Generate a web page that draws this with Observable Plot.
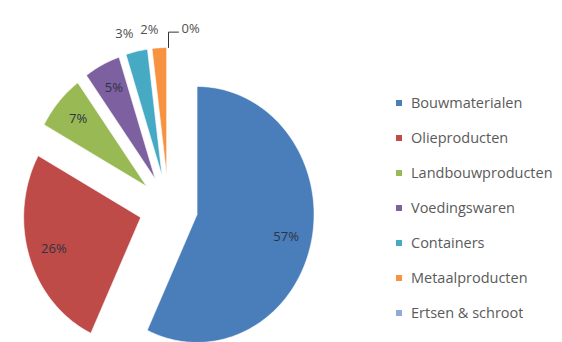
<!DOCTYPE html>
<html><head><meta charset="utf-8">
<script src="https://cdn.jsdelivr.net/npm/d3@7"></script>
<script src="https://cdn.jsdelivr.net/npm/@observablehq/plot@0.6"></script>
<style>
html,body{margin:0;padding:0;background:#fff;}
#wrap{position:relative;width:562px;height:342px;overflow:hidden;}
#legend{position:absolute;left:396px;top:85px;}
#legend .lg-swatch{height:35px !important;padding:0 !important;margin:0 !important;font-family:"Open Sans",sans-serif !important;font-size:14.5px !important;color:#5a5a5a !important;display:flex !important;align-items:center !important;white-space:nowrap !important;}
#legend .lg-swatch svg{margin-right:9px !important;}
#legend .lg-swatches, #legend > div{font-family:"Open Sans",sans-serif !important;font-size:14.5px !important;color:#5a5a5a !important;margin:0 !important;}
</style></head><body><div id="wrap"></div>
<script>
const categories = ["Bouwmaterialen","Olieproducten","Landbouwproducten","Voedingswaren","Containers","Metaalproducten","Ertsen & schroot"];
const shares = [57,26,7,5,3,2,0];
const labels = ["57%","26%","7%","5%","3%","2%","0%"];
const palette = ["#4a7ebb","#be4b48","#98b954","#7d60a0","#46aac5","#f69240","#8eaad6"];

const EXPLODE = 0.25;
const total = d3.sum(shares);
let acc = 0;
const slices = categories.map((c, i) => {
  const a0 = acc / total * 2 * Math.PI; acc += shares[i];
  const a1 = acc / total * 2 * Math.PI; const mid = (a0 + a1) / 2;
  return {c, v: shares[i], label: labels[i], a0, a1, mid,
    ox: EXPLODE * Math.sin(mid), oy: -EXPLODE * Math.cos(mid)};
});
const pts = [];
for (const s of slices) {
  if (s.v <= 0) continue;
  pts.push({c: s.c, x: s.ox, y: s.oy});
  const n = Math.max(2, Math.ceil((s.a1 - s.a0) / 0.02));
  for (let k = 0; k <= n; k++) {
    const a = s.a0 + (s.a1 - s.a0) * k / n;
    pts.push({c: s.c, x: s.ox + Math.sin(a), y: s.oy - Math.cos(a)});
  }
  pts.push({c: s.c, x: s.ox, y: s.oy});
}
const inside = slices.filter(s => s.v >= 5);
const outside = slices.filter(s => s.v > 0 && s.v < 5);
const zero = slices.filter(s => s.v === 0);
const leader = zero.flatMap(s => [
  {c: s.c, x: s.ox + Math.sin(s.mid), y: s.oy - Math.cos(s.mid)},
  {c: s.c, x: s.ox + Math.sin(s.mid), y: s.oy - 1.12},
  {c: s.c, x: s.ox + Math.sin(s.mid) + 0.085, y: s.oy - 1.12}
]);
const leaderEnd = leader.filter((d, i) => i % 3 === 2).map((d, i) => ({...d, label: zero[i].label}));

const cx = 168, cy = 207, rx = 117, ry = 128;
const chart = Plot.plot({
  width: 562, height: 342, margin: 0,
  x: {domain: [-1, 1], range: [cx - rx, cx + rx], axis: null},
  y: {domain: [-1, 1], range: [cy - ry, cy + ry], axis: null},
  color: {domain: categories, range: palette},
  style: {fontFamily: "'Open Sans', sans-serif", background: "white"},
  marks: [
    Plot.line(pts, {x: "x", y: "y", z: "c", fill: "c", stroke: "white", strokeWidth: 0.6, curve: "linear"}),
    Plot.text(inside, {x: d => d.ox + 0.78 * Math.sin(d.mid), y: d => d.oy - 0.8 * Math.cos(d.mid), text: "label", fontSize: 13, fill: "#2d3342"}),
    Plot.text(outside, {x: d => d.ox + 1.12 * Math.sin(d.mid), y: d => d.oy - 1.14 * Math.cos(d.mid), text: "label", fontSize: 13, fill: "#505050", textAnchor: "end"}),
    Plot.line(leader, {x: "x", y: "y", z: "c", stroke: "#333", strokeWidth: 1}),
    Plot.text(leaderEnd, {x: "x", y: "y", text: "label", fontSize: 13, fill: "#505050", textAnchor: "start", lineAnchor: "bottom", dx: 3, dy: 1})
  ]
});
const wrap = document.getElementById("wrap");
wrap.appendChild(chart);
const lg = chart.legend("color", {columns: 1, swatchSize: 6, className: "lg"});
lg.id = "legend";
wrap.appendChild(lg);
</script></body></html>
